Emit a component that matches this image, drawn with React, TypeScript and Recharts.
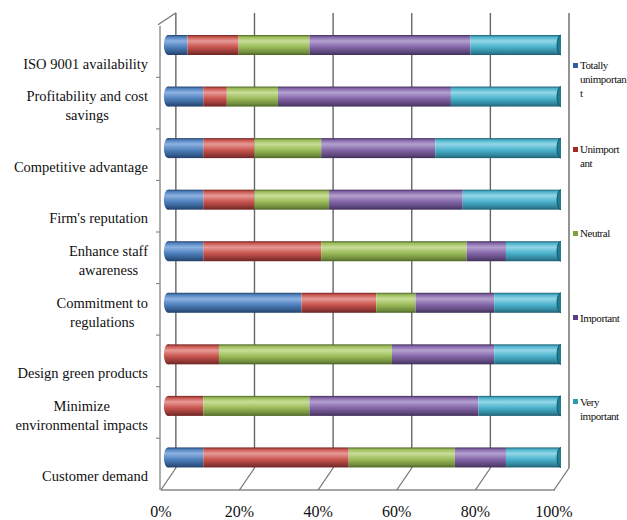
import React from "react"
import { Bar, BarChart, CartesianGrid, Legend, XAxis, YAxis } from "recharts"

const categories = [
  "ISO 9001 availability",
  "Profitability and cost\nsavings",
  "Competitive advantage",
  "Firm's reputation",
  "Enhance staff\nawareness",
  "Commitment to\nregulations",
  "Design green products",
  "Minimize\nenvironmental impacts",
  "Customer demand",
]

const totallyUnimportant = [5, 9, 9, 9, 9, 34, 0, 0, 9]
const unimportant = [13, 6, 13, 13, 30, 19, 13, 9, 37]
const neutral = [18, 13, 17, 19, 37, 10, 44, 27, 27]
const important = [41, 44, 29, 34, 10, 20, 26, 43, 13]
const veryImportant = [23, 28, 32, 25, 14, 17, 17, 21, 14]

const xTicks = [0, 20, 40, 60, 80, 100]
const xDomain = [-2, 100]

const series = [
  { key: "tu", name: "Totally unimportant", lines: ["Totally", "unimportan", "t"], values: totallyUnimportant },
  { key: "u", name: "Unimportant", lines: ["Unimport", "ant"], values: unimportant },
  { key: "n", name: "Neutral", lines: ["Neutral"], values: neutral },
  { key: "i", name: "Important", lines: ["Important"], values: important },
  { key: "vi", name: "Very important", lines: ["Very", "important"], values: veryImportant },
]

// edge, highlight, base, shadow
const palette: Record<string, string[]> = {
  tu: ["#23406a", "#8db2e2", "#4f81bd", "#2f5686"],
  u: ["#6e2321", "#e79a96", "#c9554f", "#8c3533"],
  n: ["#4b6326", "#c8de98", "#9bbb59", "#6e8a3c"],
  i: ["#3f2e57", "#b3a1cf", "#8466a8", "#5a4477"],
  vi: ["#1d5e70", "#93d6e8", "#4bb2cc", "#2f8198"],
}
const legendColors: Record<string, string> = {
  tu: "#2d5e9e",
  u: "#a52a26",
  n: "#7ea33e",
  i: "#5b3f86",
  vi: "#2f9ab4",
}

const data = categories.map((name, i) => {
  const row: Record<string, any> = { name }
  series.forEach((s) => (row[s.key] = s.values[i]))
  return row
})

const FONT = "'Liberation Serif', 'Times New Roman', serif"
const LABEL_SIZE = 14.5

let ctx: CanvasRenderingContext2D | null = null
const measure = (t: string) => {
  if (!ctx) ctx = document.createElement("canvas").getContext("2d")
  if (!ctx) return t.length * 6.5
  ctx.font = `${LABEL_SIZE}px ${FONT}`
  return ctx.measureText(t).width
}

const YTick = (props: any) => {
  const { x, y, payload, index } = props
  const lines = String(payload.value).split("\n")
  const maxW = Math.max(...lines.map(measure))
  const cx = x - maxW / 2
  const last = y + 24
  return (
    <g>
      {index > 0 && <line x1={x + 8} y1={y - 19} x2={x + 12} y2={y - 19} stroke="#8a8a8a" strokeWidth={1.2} />}
      {index === 0 && <line x1={x + 10} y1={y - 20} x2={x + 28} y2={y - 32} stroke="#777" strokeWidth={1.3} />}
      <text textAnchor="middle" fontSize={LABEL_SIZE} fontFamily={FONT} fill="#111">
        {lines.map((l, i) => (
          <tspan key={i} x={cx} y={last - (lines.length - 1 - i) * 19}>
            {l}
          </tspan>
        ))}
      </text>
    </g>
  )
}

const XTick = (props: any) => {
  const { x, y, payload } = props
  return (
    <g>
      <line x1={x + 8} y1={y - 15} x2={x - 7} y2={y + 7} stroke="#777" strokeWidth={1.3} />
      <text x={x - 7} y={y + 34} textAnchor="middle" fontSize={16} fontFamily={FONT} fill="#111">
        {payload.value}%
      </text>
    </g>
  )
}

const makeShape = (key: string) => (props: any) => {
  const { x, y, width, height, payload } = props
  if (!width || width <= 0) return null
  const ry = height / 2
  const cy = y + ry
  const first = series.find((s) => payload && payload[s.key] > 0)?.key === key
  const fill = `url(#grad-${key})`
  return (
    <g>
      {first && <ellipse cx={x} cy={cy} rx={4} ry={ry} fill={fill} />}
      <rect x={x} y={y} width={width} height={height} fill={fill} />
      {key === "vi" && <ellipse cx={x + width} cy={cy} rx={4} ry={ry} fill="#227d92" stroke="#10485a" strokeWidth={0.8} />}
    </g>
  )
}

const LegendContent = () => (
  <div
    style={{
      position: "relative",
      width: 55,
      height: 430,
      fontFamily: FONT,
      fontSize: 11,
      lineHeight: "14px",
      letterSpacing: "-0.45px",
      color: "#111",
    }}
  >
    {series.map((s, i) => (
      <div key={s.key} style={{ position: "absolute", top: i * 84.2, left: 0, whiteSpace: "nowrap" }}>
        <span style={{ position: "absolute", left: 1, top: 4.5, width: 5, height: 5, background: legendColors[s.key] }} />
        <div style={{ marginLeft: 8 }}>
          {s.lines.map((l, j) => (
            <div key={j}>{l}</div>
          ))}
        </div>
      </div>
    ))}
  </div>
)

// back wall lines sit a little right of the bars (3D depth)
const gridX = ({ offset }: any) =>
  xTicks.map((t) => offset.left + ((t - xDomain[0]) / (xDomain[1] - xDomain[0])) * offset.width + 8)

export default function App() {
  return (
    <div style={{ position: "absolute", left: 0, top: 0, width: 627, height: 520, background: "#fff", overflow: "hidden" }}>
      <style>{`
        .recharts-xAxis .recharts-cartesian-axis-line { transform: translate(-6px, 7px); stroke-dasharray: 0 7 2000; }
        .recharts-yAxis .recharts-cartesian-axis-line { transform: translate(0px, 7px); }
      `}</style>
      <BarChart
        width={627}
        height={520}
        data={data}
        layout="vertical"
        margin={{ top: 19, right: 66, bottom: 7, left: 0 }}
        barSize={20}
      >
        <defs>
          {series.map((s) => {
            const [edge, light, base, dark] = palette[s.key]
            return (
              <linearGradient key={s.key} id={`grad-${s.key}`} x1="0" y1="0" x2="0" y2="1">
                <stop offset="0%" stopColor={edge} />
                <stop offset="10%" stopColor={base} />
                <stop offset="30%" stopColor={light} />
                <stop offset="60%" stopColor={base} />
                <stop offset="88%" stopColor={dark} />
                <stop offset="100%" stopColor={edge} />
              </linearGradient>
            )
          })}
        </defs>
        <CartesianGrid
          horizontal={false}
          y={13}
          height={455}
          stroke="#666"
          strokeWidth={1.4}
          verticalCoordinatesGenerator={gridX}
        />
        <XAxis
          type="number"
          domain={xDomain}
          allowDataOverflow
          ticks={xTicks}
          interval={0}
          height={30}
          tickSize={0}
          tickMargin={0}
          tickLine={false}
          axisLine={{ stroke: "#8a8a8a", strokeWidth: 1.4 }}
          tick={<XTick />}
        />
        <YAxis
          type="category"
          dataKey="name"
          width={160}
          interval={0}
          tickSize={0}
          tickMargin={12}
          tickLine={false}
          axisLine={{ stroke: "#8a8a8a", strokeWidth: 1.4 }}
          tick={<YTick />}
        />
        <Legend
          layout="vertical"
          align="center"
          verticalAlign="middle"
          content={<LegendContent />}
          wrapperStyle={{ left: 572, top: 58, width: 55 }}
        />
        {series.map((s) => (
          <Bar
            key={s.key}
            dataKey={s.key}
            name={s.name}
            stackId="a"
            fill={palette[s.key][2]}
            shape={makeShape(s.key)}
            isAnimationActive={false}
          />
        ))}
      </BarChart>
    </div>
  )
}
